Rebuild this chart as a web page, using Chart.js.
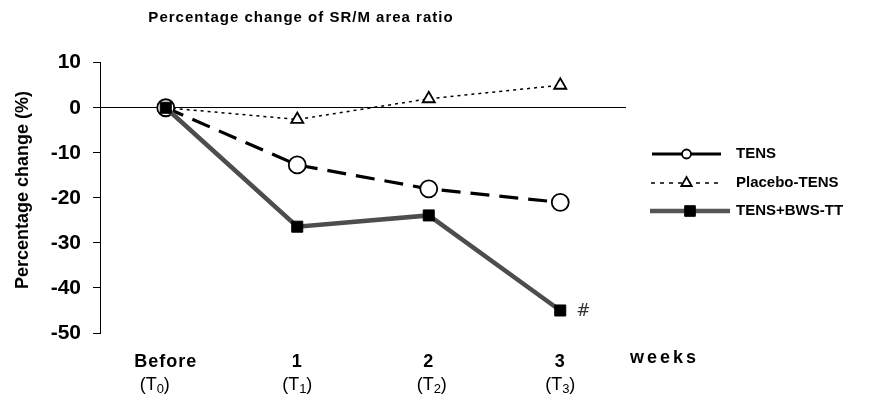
<!DOCTYPE html>
<html>
<head>
<meta charset="utf-8">
<script src="https://cdn.jsdelivr.net/npm/chart.js@4.4.1/dist/chart.umd.min.js"></script>
<style>
  html, body { margin: 0; padding: 0; background: #ffffff; }
  #wrap { width: 875px; height: 396px; position: relative; }
</style>
</head>
<body>
<div id="wrap"><canvas id="chart" width="875" height="396"></canvas></div>
<script>
// Time points (weeks) and their T-subscripts
const categories = ['Before', '1', '2', '3'];
const timeSubscripts = ['0', '1', '2', '3'];

// Percentage change of SR/M area ratio per group
const tensValues = [0, -12.7, -18.0, -21.0];
const placeboValues = [0, -2.6, 2.0, 5.0];
const bwsValues = [0, -26.4, -23.9, -45.0];

const seriesNames = ['TENS', 'Placebo-TENS', 'TENS+BWS-TT'];
const yTickLabels = [10, 0, -10, -20, -30, -40, -50];

const titleText = 'Percentage change of SR/M area ratio';
const yAxisTitle = 'Percentage change (%)';
const xAxisTitle = 'weeks';
const significanceMark = '#';

const FONT = '"Liberation Sans", Arial, sans-serif';

// Extra text: title, axis titles, two-line x labels, legend, significance mark
const decorations = {
  id: 'decorations',
  afterDraw(chart) {
    const ctx = chart.ctx;
    const x = chart.scales.x;
    const y = chart.scales.y;
    ctx.save();
    ctx.fillStyle = '#000';
    ctx.textBaseline = 'middle';

    // title
    ctx.font = 'bold 15px ' + FONT;
    ctx.letterSpacing = '1px';
    ctx.textAlign = 'center';
    ctx.fillText(titleText, 301, 18);
    ctx.letterSpacing = '0px';

    // y axis title
    ctx.save();
    ctx.translate(23, 190);
    ctx.rotate(-Math.PI / 2);
    ctx.font = 'bold 18px ' + FONT;
    ctx.fillText(yAxisTitle, 0, 0);
    ctx.restore();

    // x labels: week on first line, (Tn) below
    const subShift = [-11, 0, 3, 0];
    categories.forEach((c, i) => {
      const px = x.getPixelForValue(i);
      ctx.textAlign = 'center';
      ctx.font = 'bold 18px ' + FONT;
      ctx.letterSpacing = '1px';
      ctx.fillText(c, px, 362);
      ctx.letterSpacing = '0px';
      const big = '18px ' + FONT, small = '13px ' + FONT;
      ctx.font = big;
      const wOpen = ctx.measureText('(T').width;
      const wClose = ctx.measureText(')').width;
      ctx.font = small;
      const wSub = ctx.measureText(timeSubscripts[i]).width;
      const sx = px + subShift[i] - (wOpen + wSub + wClose) / 2;
      ctx.textAlign = 'left';
      ctx.font = big;
      ctx.fillText('(T', sx, 385);
      ctx.font = small;
      ctx.fillText(timeSubscripts[i], sx + wOpen, 389);
      ctx.font = big;
      ctx.fillText(')', sx + wOpen + wSub, 385);
    });

    // "weeks"
    ctx.textAlign = 'left';
    ctx.font = 'bold 18px ' + FONT;
    ctx.letterSpacing = '3px';
    ctx.fillText(xAxisTitle, 630, 358);
    ctx.letterSpacing = '0px';

    // significance mark next to last TENS+BWS-TT point
    const last = bwsValues.length - 1;
    ctx.font = '17px "DejaVu Sans", ' + FONT;
    ctx.fillStyle = '#333';
    ctx.fillText(significanceMark, x.getPixelForValue(last) + 16, y.getPixelForValue(bwsValues[last]) + 1);

    // legend
    const rows = [154, 183, 211];
    const spans = [[652, 721], [651, 722], [650, 730]];
    chart.data.datasets.forEach((ds, i) => {
      const ry = rows[i];
      const [x0, x1] = spans[i];
      const xm = (x0 + x1) / 2;
      ctx.save();
      ctx.strokeStyle = ds.legendLine;
      ctx.lineWidth = ds.borderWidth;
      ctx.setLineDash(ds.legendDash);
      ctx.beginPath();
      ctx.moveTo(x0, ry);
      ctx.lineTo(x1, ry);
      ctx.stroke();
      ctx.restore();
      ctx.save();
      ctx.fillStyle = ds.pointBackgroundColor;
      ctx.strokeStyle = ds.pointBorderColor;
      ctx.lineWidth = ds.pointBorderWidth;
      Chart.helpers.drawPoint(ctx, { pointStyle: ds.pointStyle, rotation: 0, radius: ds.legendRadius, borderWidth: ds.pointBorderWidth }, xm, ry);
      ctx.restore();
      ctx.fillStyle = '#000';
      ctx.font = 'bold 15px ' + FONT;
      ctx.textAlign = 'left';
      ctx.fillText(ds.label, 736, ry);
    });
    ctx.restore();
  }
};

new Chart(document.getElementById('chart'), {
  type: 'line',
  data: {
    labels: categories,
    datasets: [
      {
        label: seriesNames[0],
        data: tensValues,
        borderColor: '#000',
        borderWidth: 3.2,
        borderDash: [19, 10],
        legendDash: [],
        legendLine: '#000',
        pointStyle: 'circle',
        pointRadius: 8.5,
        legendRadius: 4.5,
        pointBackgroundColor: '#fff',
        pointBorderColor: '#000',
        pointBorderWidth: 1.8,
        tension: 0,
        order: 1
      },
      {
        label: seriesNames[1],
        data: placeboValues,
        borderColor: '#000',
        borderWidth: 1.5,
        borderDash: [3, 4],
        legendDash: [4, 5],
        legendLine: '#000',
        pointStyle: 'triangle',
        pointRadius: 7,
        legendRadius: 6,
        pointBackgroundColor: '#fff',
        pointBorderColor: '#000',
        pointBorderWidth: 1.8,
        tension: 0,
        order: 2
      },
      {
        label: seriesNames[2],
        data: bwsValues,
        borderColor: '#4d4d4d',
        borderWidth: 4.5,
        borderDash: [],
        legendDash: [],
        legendLine: '#555',
        pointStyle: 'rect',
        pointRadius: 7.8,
        legendRadius: 7.5,
        pointBackgroundColor: '#000',
        pointBorderColor: '#000',
        pointBorderWidth: 1,
        tension: 0,
        order: 0
      }
    ]
  },
  options: {
    responsive: false,
    animation: false,
    layout: { padding: { top: 62.7, right: 249, left: 0, bottom: 0 } },
    plugins: {
      legend: { display: false },
      title: { display: false },
      tooltip: { enabled: false }
    },
    scales: {
      x: {
        type: 'category',
        offset: true,
        ticks: { display: false },
        grid: { display: false, drawTicks: false },
        border: { display: false },
        afterFit(scale) { scale.height = 396 - 333; }
      },
      y: {
        min: -50,
        max: 10,
        afterBuildTicks(scale) { scale.ticks = yTickLabels.map(v => ({ value: v })); },
        ticks: {
          color: '#000',
          padding: 12,
          font: { family: FONT, size: 21, weight: 'bold' }
        },
        grid: {
          color: ctx => (ctx.tick && ctx.tick.value === 0 ? '#000' : 'rgba(0,0,0,0)'),
          tickColor: '#000',
          tickLength: 7,
          lineWidth: 1
        },
        border: { display: true, color: '#000', width: 1 },
        afterFit(scale) { scale.width = 100; }
      }
    }
  },
  plugins: [decorations]
});
</script>
</body>
</html>
